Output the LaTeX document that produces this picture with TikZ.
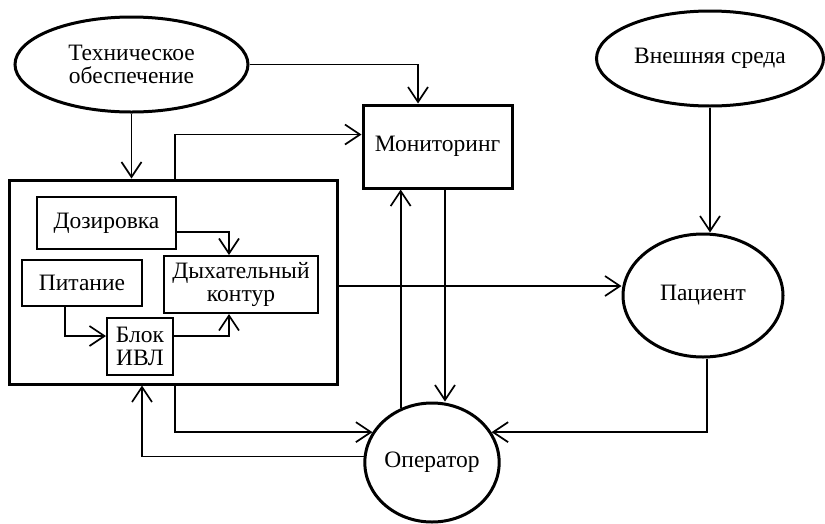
\documentclass[tikz,border=0pt]{standalone}
\usepackage{fontspec}
\setmainfont{Liberation Serif}
\usetikzlibrary{arrows.meta,shapes.geometric}
\begin{document}
\begin{tikzpicture}[x=1pt,y=-1pt,
  every node/.style={font=\fontsize{23.5}{23}\selectfont, align=center, inner sep=0pt},
  thickbox/.style={draw, line width=3pt, rectangle},
  thinbox/.style={draw, line width=2pt, rectangle},
  oval/.style={draw, line width=3pt, ellipse},
  conn/.style={line width=1.7pt, -{Straight Barb[length=15pt,width=20pt,line width=1.7pt]}},
  plain/.style={line width=1.7pt}]
\useasboundingbox (0,0) rectangle (825,523);

\node[oval, minimum width=233, minimum height=95] (tech) at (131.5,64.5) {Техническое\\обеспечение};
\node[oval, minimum width=227, minimum height=95] (ext) at (710,58.5) {Внешняя среда};
\node[thickbox, minimum width=149, minimum height=83] (mon) at (437.5,146.5) {\raisebox{6pt}{Мониторинг}};
\node[thickbox, minimum width=328, minimum height=204] (big) at (173,282) {};
\node[thinbox, minimum width=139, minimum height=52] (doz) at (106.5,223) {Дозировка};
\node[thinbox, minimum width=120, minimum height=46] (pit) at (82,283) {Питание};
\node[thinbox, minimum width=154, minimum height=57] (dyh) at (241,284.5) {Дыхательный\\контур};
\node[thinbox, minimum width=66, minimum height=57] (blok) at (140,346.5) {Блок\\ИВЛ};
\node[oval, minimum width=160, minimum height=123] (pac) at (703,295.5) {Пациент};
\node[oval, minimum width=126, minimum height=119] (op) at (432,462.5) {Оператор};

% technical support
\draw[conn] (tech.south) -- (tech.south |- big.north);
\draw[conn] (tech.east) -| ([xshift=-19.5pt]mon.north);
% big box to monitoring
\draw[conn] ([xshift=2pt]big.north) |- ([yshift=12pt]mon.west);
% inner
\draw[conn] ([yshift=-9pt]doz.east) -| ([xshift=-12pt]dyh.north);
\draw[conn] ([xshift=-17pt]pit.south) |- ([yshift=10.5pt]blok.west);
\draw[conn] ([yshift=10.5pt]blok.east) -| ([xshift=-12pt]dyh.south);
% big to patient
\coordinate (bp) at ([yshift=-4pt]big.east);
\draw[conn] (bp) -- (pac.west |- bp);
% external to patient
\draw[conn] (ext.south) -- (ext.south |- pac.north);
% monitoring <-> operator
\coordinate (mo) at ([xshift=7.5pt]mon.south);
\draw[conn] (mo) -- (mo |- op.north);
\draw[conn] (op.120) -- (op.120 |- mon.south);
% big -> operator
\draw[conn] ([xshift=2pt]big.south) |- (op.153);
% operator -> big
\draw[conn] (op.175) -| ([xshift=-31pt]big.south);
% patient -> operator
\draw[conn] ([xshift=4pt]pac.south) |- (op.27);
\end{tikzpicture}
\end{document}
